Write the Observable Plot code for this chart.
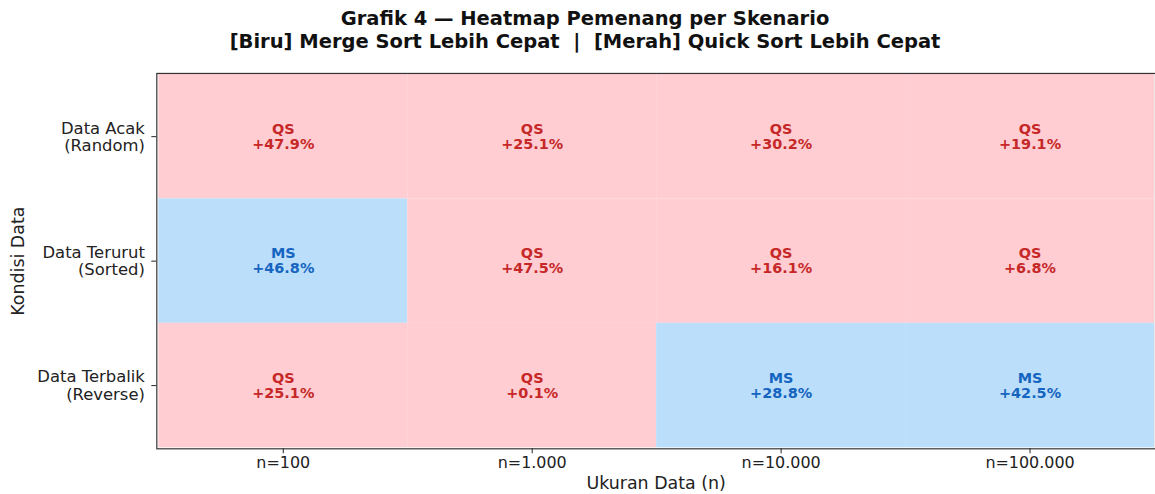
<!DOCTYPE html>
<html><head><meta charset="utf-8">
<script src="https://cdn.jsdelivr.net/npm/d3@7"></script>
<script src="https://cdn.jsdelivr.net/npm/@observablehq/plot@0.6"></script>
<style>
body{margin:0;background:#fff;overflow:hidden;width:1155px;height:494px;}
#title{width:1170px;height:60px;box-sizing:border-box;padding-top:7px;text-align:center;font:bold 19.5px "DejaVu Sans";line-height:23px;color:#111;white-space:pre;}
#chart svg{display:block;}
</style></head><body>
<div id="title">Grafik 4 — Heatmap Pemenang per Skenario
[Biru] Merge Sort Lebih Cepat  |  [Merah] Quick Sort Lebih Cepat</div>
<div id="chart"></div>
<script>
const sizes = ["n=100", "n=1.000", "n=10.000", "n=100.000"];
const conditions = ["Data Acak\n(Random)", "Data Terurut\n(Sorted)", "Data Terbalik\n(Reverse)"];
const winners = [
  ["QS", "QS", "QS", "QS"],
  ["MS", "QS", "QS", "QS"],
  ["QS", "QS", "MS", "MS"]
];
const margins = [
  [47.9, 25.1, 30.2, 19.1],
  [46.8, 47.5, 16.1, 6.8],
  [25.1, 0.1, 28.8, 42.5]
];
const data = [];
conditions.forEach((c, i) => sizes.forEach((s, j) => data.push({cond: c, size: s, win: winners[i][j], pct: margins[i][j]})));
const bg = {MS: "#bbdefb", QS: "#ffcdd2"};
const fg = {MS: "#1565c0", QS: "#c62828"};
const chart = Plot.plot({
  width: 1160, height: 434,
  marginTop: 13, marginBottom: 44, marginLeft: 157, marginRight: 0,
  style: {fontFamily: "DejaVu Sans", fontSize: "16px", color: "#222", background: "#fff"},
  x: {domain: sizes, padding: 0, label: null},
  y: {domain: conditions, padding: 0, label: null},
  marks: [
    Plot.cell(data, {x: "size", y: "cond", fill: d => bg[d.win]}),
    Plot.text(data, {x: "size", y: "cond", text: d => `${d.win}\n+${d.pct.toFixed(1)}%`, fill: d => fg[d.win], fontWeight: "bold", fontSize: 14.5, lineHeight: 1.03}),
    Plot.frame({stroke: "#333", strokeWidth: 1.2}),
    Plot.axisX({tickSize: 5, tickPadding: 3, fontSize: 16, label: null}),
    Plot.axisY({tickSize: 5, tickPadding: 7, fontSize: 16.5, lineHeight: 1.05, label: null}),
    Plot.text(["Ukuran Data (n)"], {frameAnchor: "bottom", dy: 40, fontSize: 17.5}),
    Plot.text(["Kondisi Data"], {frameAnchor: "left", textAnchor: "middle", dx: -139, rotate: -90, fontSize: 17.5})
  ]
});
document.getElementById("chart").appendChild(chart);
</script>
</body></html>
